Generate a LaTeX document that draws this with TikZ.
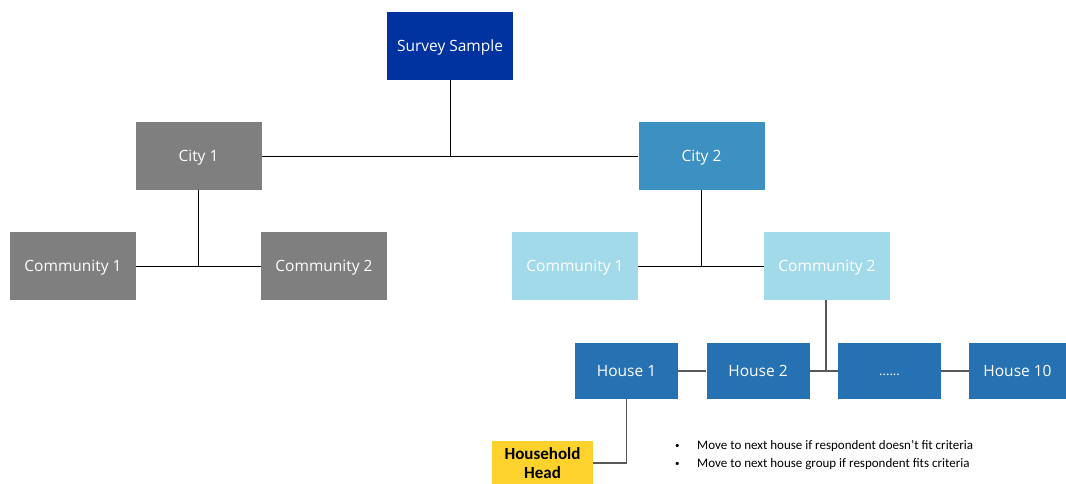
\documentclass[tikz,border=0pt]{standalone}
\usepackage{fontspec}
\setmainfont{Open Sans}
\newfontfamily\calib{Carlito}
\definecolor{cSurvey}{RGB}{0,51,160}
\definecolor{cGray}{RGB}{127,127,127}
\definecolor{cCity}{RGB}{60,145,194}
\definecolor{cLight}{RGB}{163,218,234}
\definecolor{cHouse}{RGB}{38,113,178}
\definecolor{cHead}{RGB}{253,210,45}
\definecolor{cLine}{RGB}{89,89,89}
\newcommand{\capc}[1]{\raisebox{-5.5pt}[0pt][0pt]{#1}}
\begin{document}
\begin{tikzpicture}[x=1pt,y=-1pt,
  bigbox/.style={draw=none,minimum width=126pt,minimum height=68pt,inner sep=0pt,text=white,font=\fontsize{15.5}{18}\selectfont},
  housebox/.style={draw=none,fill=cHouse,minimum width=103pt,minimum height=56pt,inner sep=0pt,text=white,font=\fontsize{15.5}{18}\selectfont},
  topline/.style={draw=black,line width=1pt},
  houseline/.style={draw=cLine,line width=1.5pt}]
\useasboundingbox (0,0) rectangle (1066,483);
\fill[white] (0,0) rectangle (1066,483);
\node[bigbox,fill=cSurvey] (ss) at (450,46) {\capc{Survey Sample}};
\node[bigbox,fill=cGray] (c1) at (198.5,156) {\capc{City 1}};
\node[bigbox,fill=cCity] (c2) at (701.5,156) {\capc{City 2}};
\node[bigbox,fill=cGray] (l1) at (73,266) {\capc{Community 1}};
\node[bigbox,fill=cGray] (l2) at (324,266) {\capc{Community 2}};
\node[bigbox,fill=cLight] (r1) at (575,266) {\capc{Community 1}};
\node[bigbox,fill=cLight] (r2) at (827,266) {\capc{Community 2}};
\node[housebox] (h1) at (626.5,371) {\capc{House 1}};
\node[housebox] (h2) at (758,371) {\capc{House 2}};
\node[housebox] (hd) at (889.5,371) {\fontsize{13}{15}\selectfont\raisebox{-4pt}[0pt][0pt]{......}};
\node[housebox,minimum width=97pt] (h10) at (1017.5,371) {\capc{House 10}};
\node[draw=none,fill=cHead,minimum width=101pt,minimum height=44pt,inner sep=0pt,align=center,font=\calib\bfseries\fontsize{17}{19}\selectfont] (hh) at (542.5,463) {Household\\Head};
\coordinate (j1) at (450,156);
\coordinate (j2) at (198.5,266);
\coordinate (j3) at (701.5,266);
\coordinate (j4) at (826,371);
\coordinate (j5) at (626.5,463);
\draw[topline] (ss.south) -- (j1);
\draw[topline] (c1.east) -- (c2.west);
\draw[topline] (c1.south) -- (j2);
\draw[topline] (l1.east) -- (l2.west);
\draw[topline] (c2.south) -- (j3);
\draw[topline] (r1.east) -- (r2.west);
\draw[houseline] (r2.south -| j4) -- (j4);
\draw[houseline] (h1.east) -- (h2.west);
\draw[houseline] (h2.east) -- (hd.west);
\draw[houseline] (hd.east) -- (h10.west);
\draw[houseline] (h1.south) -- (j5) -- (hh.east);
\node[anchor=west,inner sep=0pt,align=left,font=\calib\fontsize{13}{18}\selectfont] (notes) at (675,455)
  {\makebox[22pt][l]{\raisebox{0.5pt}{\fontsize{9}{9}\selectfont\textbullet}}Move to next house if respondent doesn’t fit criteria\\
   \makebox[22pt][l]{\raisebox{0.5pt}{\fontsize{9}{9}\selectfont\textbullet}}Move to next house group if respondent fits criteria};
\end{tikzpicture}
\end{document}
